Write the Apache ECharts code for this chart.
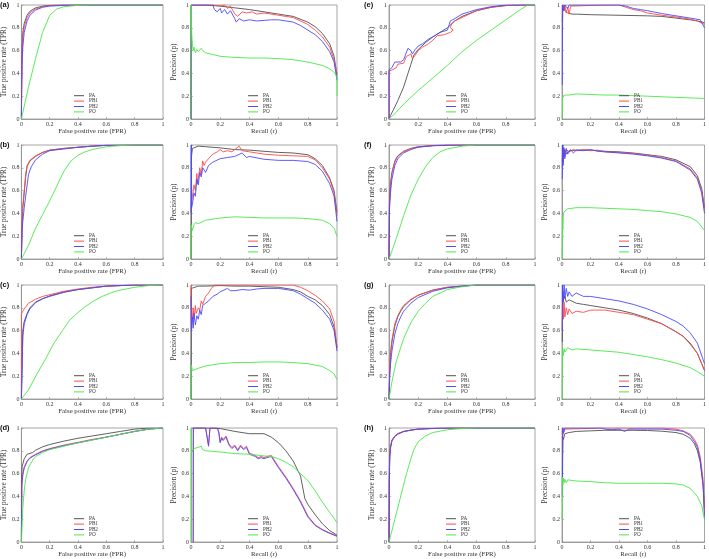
<!DOCTYPE html>
<html><head><meta charset="utf-8">
<script src="https://cdn.jsdelivr.net/npm/echarts@6/dist/echarts.min.js"></script>
<style>html,body{margin:0;padding:0;background:#fff}#c{width:709px;height:559px}</style>
</head><body><div id="c"></div>
<script>
// ---------- DATA ----------
const seriesNames = ['PA', 'PB1', 'PB2', 'PO'];
const panelLabels = ['(a)', '(b)', '(c)', '(d)', '(e)', '(f)', '(g)', '(h)'];
const axisTicks = [0, 0.2, 0.4, 0.6, 0.8, 1];
const rocXName = 'False positive rate (FPR)';
const rocYName = 'True positive rate (TPR)';
const prXName = 'Recall (r)';
const prYName = 'Precision (p)';

// (a)
const rocA_PA = [[0,0],[0.002,0.35],[0.005,0.62],[0.01,0.76],[0.02,0.84],[0.04,0.91],[0.06,0.945],[0.1,0.975],[0.15,0.99],[0.2,0.997],[0.3,1],[1,1]];
const rocA_PB1 = [[0,0],[0.002,0.3],[0.005,0.58],[0.01,0.72],[0.02,0.81],[0.04,0.89],[0.06,0.93],[0.1,0.965],[0.15,0.985],[0.2,0.995],[0.3,1],[1,1]];
const rocA_PB2 = [[0,0],[0.002,0.25],[0.005,0.5],[0.01,0.63],[0.02,0.76],[0.04,0.86],[0.06,0.91],[0.1,0.955],[0.15,0.98],[0.2,0.99],[0.35,1],[1,1]];
const rocA_PO = [[0,0],[0.05,0.28],[0.1,0.53],[0.15,0.76],[0.2,0.91],[0.25,0.965],[0.3,0.985],[0.4,0.997],[0.5,1],[1,1]];
const prA_PA = [[0,0],[0.002,1],[0.1,1],[0.2,0.99],[0.3,0.975],[0.4,0.96],[0.5,0.94],[0.6,0.92],[0.7,0.9],[0.8,0.85],[0.85,0.81],[0.9,0.75],[0.95,0.66],[0.98,0.55],[1,0.38]];
const prA_PB1 = [[0,0],[0.002,1],[0.15,1],[0.2,0.99],[0.23,1],[0.25,0.97],[0.27,0.99],[0.3,0.92],[0.32,0.9],[0.35,0.94],[0.38,0.93],[0.42,0.94],[0.45,0.92],[0.5,0.93],[0.55,0.92],[0.6,0.91],[0.7,0.89],[0.8,0.83],[0.85,0.78],[0.9,0.72],[0.95,0.63],[0.98,0.52],[1,0.4]];
const prA_PB2 = [[0,0],[0.002,1],[0.15,1],[0.16,0.96],[0.18,0.94],[0.2,0.97],[0.21,0.93],[0.23,0.96],[0.25,0.92],[0.27,0.95],[0.3,0.88],[0.31,0.85],[0.33,0.88],[0.36,0.86],[0.4,0.87],[0.45,0.86],[0.5,0.865],[0.55,0.87],[0.6,0.87],[0.65,0.86],[0.7,0.85],[0.75,0.82],[0.8,0.78],[0.85,0.74],[0.9,0.68],[0.95,0.59],[0.98,0.5],[1,0.34]];
const prA_PO = [[0,0],[0.001,1],[0.005,0.75],[0.01,0.65],[0.015,0.6],[0.02,0.63],[0.03,0.58],[0.04,0.61],[0.05,0.59],[0.07,0.62],[0.08,0.6],[0.1,0.58],[0.15,0.565],[0.2,0.55],[0.3,0.54],[0.4,0.535],[0.5,0.535],[0.6,0.53],[0.7,0.52],[0.8,0.5],[0.9,0.47],[0.95,0.44],[0.98,0.41],[1,0.37],[1,0.2]];

// (b)
const rocB_PA = [[0,0],[0.005,0.3],[0.01,0.45],[0.02,0.58],[0.03,0.72],[0.04,0.81],[0.06,0.86],[0.1,0.9],[0.15,0.935],[0.2,0.955],[0.3,0.97],[0.4,0.98],[0.5,0.99],[0.6,0.997],[0.8,1],[1,1]];
const rocB_PB1 = [[0,0],[0.005,0.32],[0.01,0.47],[0.02,0.6],[0.03,0.74],[0.04,0.82],[0.06,0.865],[0.1,0.905],[0.15,0.935],[0.2,0.955],[0.3,0.97],[0.4,0.98],[0.5,0.99],[0.6,0.997],[0.8,1],[1,1]];
const rocB_PB2 = [[0,0],[0.005,0.25],[0.01,0.33],[0.02,0.45],[0.03,0.55],[0.05,0.74],[0.07,0.81],[0.1,0.87],[0.15,0.92],[0.2,0.95],[0.3,0.965],[0.4,0.98],[0.5,0.99],[0.6,0.997],[0.8,1],[1,1]];
const rocB_PO = [[0,0],[0.05,0.12],[0.1,0.27],[0.15,0.39],[0.2,0.51],[0.25,0.64],[0.3,0.77],[0.35,0.86],[0.4,0.91],[0.45,0.94],[0.5,0.96],[0.6,0.985],[0.7,0.995],[0.8,1],[1,1]];
const prB_PA = [[0,0],[0.003,0.9],[0.01,0.97],[0.02,0.985],[0.05,0.99],[0.1,0.985],[0.2,0.975],[0.3,0.96],[0.4,0.955],[0.5,0.945],[0.6,0.935],[0.7,0.93],[0.8,0.915],[0.85,0.88],[0.9,0.82],[0.95,0.71],[0.98,0.6],[1,0.41]];
const prB_PB1 = [[0,0.45],[0.005,0.5],[0.01,0.55],[0.02,0.65],[0.03,0.6],[0.04,0.75],[0.045,0.66],[0.06,0.8],[0.07,0.74],[0.08,0.86],[0.09,0.82],[0.1,0.85],[0.12,0.88],[0.15,0.92],[0.18,0.94],[0.2,0.96],[0.22,0.94],[0.25,0.95],[0.28,0.94],[0.3,0.96],[0.33,0.99],[0.35,0.95],[0.4,0.94],[0.45,0.93],[0.5,0.92],[0.6,0.91],[0.7,0.905],[0.8,0.9],[0.85,0.87],[0.9,0.8],[0.95,0.7],[0.98,0.58],[1,0.38]];
const prB_PB2 = [[0,0.4],[0.002,1],[0.004,0.45],[0.01,0.48],[0.02,0.58],[0.03,0.55],[0.04,0.7],[0.05,0.65],[0.06,0.76],[0.07,0.72],[0.08,0.8],[0.1,0.76],[0.12,0.82],[0.15,0.85],[0.2,0.88],[0.25,0.89],[0.3,0.9],[0.35,0.93],[0.38,0.89],[0.4,0.9],[0.5,0.875],[0.6,0.865],[0.7,0.865],[0.8,0.855],[0.85,0.83],[0.9,0.77],[0.95,0.66],[0.98,0.55],[1,0.33]];
const prB_PO = [[0,0],[0.002,0.3],[0.01,0.25],[0.02,0.3],[0.03,0.32],[0.05,0.31],[0.1,0.34],[0.2,0.36],[0.3,0.37],[0.4,0.365],[0.5,0.36],[0.6,0.36],[0.7,0.36],[0.8,0.355],[0.9,0.34],[0.95,0.31],[0.98,0.27],[1,0.2]];

// (c)
const rocC_PA = [[0,0],[0.005,0.3],[0.01,0.6],[0.02,0.68],[0.04,0.75],[0.06,0.8],[0.1,0.85],[0.15,0.88],[0.2,0.905],[0.3,0.94],[0.4,0.96],[0.5,0.975],[0.6,0.99],[0.8,1],[1,1]];
const rocC_PB1 = [[0,0],[0.001,0.75],[0.01,0.77],[0.02,0.79],[0.05,0.84],[0.1,0.875],[0.15,0.9],[0.2,0.915],[0.3,0.945],[0.4,0.965],[0.5,0.98],[0.6,0.99],[0.8,1],[1,1]];
const rocC_PB2 = [[0,0],[0.005,0.25],[0.01,0.55],[0.02,0.66],[0.04,0.74],[0.06,0.79],[0.1,0.845],[0.15,0.88],[0.2,0.9],[0.3,0.935],[0.4,0.96],[0.5,0.975],[0.6,0.99],[0.8,1],[1,1]];
const rocC_PO = [[0,0],[0.05,0.08],[0.11,0.22],[0.17,0.35],[0.23,0.49],[0.29,0.6],[0.34,0.69],[0.4,0.76],[0.45,0.81],[0.51,0.86],[0.57,0.9],[0.63,0.93],[0.68,0.95],[0.8,0.98],[0.9,0.995],[1,1]];
const prC_PA = [[0,0],[0.002,0.97],[0.01,0.98],[0.05,0.99],[0.1,0.99],[0.2,0.995],[0.3,0.99],[0.4,0.99],[0.5,0.985],[0.6,0.98],[0.7,0.96],[0.75,0.94],[0.8,0.9],[0.85,0.87],[0.9,0.82],[0.95,0.74],[0.98,0.63],[1,0.45]];
const prC_PB1 = [[0,1],[0.003,0.65],[0.01,0.72],[0.015,0.8],[0.02,0.7],[0.03,0.82],[0.035,0.75],[0.05,0.8],[0.06,0.78],[0.07,0.86],[0.08,0.83],[0.1,0.9],[0.12,0.93],[0.14,0.97],[0.16,1],[0.2,1],[0.4,1],[0.6,1],[0.7,1],[0.75,0.98],[0.8,0.95],[0.85,0.91],[0.9,0.86],[0.95,0.79],[0.98,0.68],[1,0.45]];
const prC_PB2 = [[0,0.9],[0.003,0.6],[0.01,0.72],[0.015,0.62],[0.02,0.75],[0.03,0.65],[0.04,0.73],[0.05,0.7],[0.06,0.78],[0.07,0.74],[0.08,0.82],[0.1,0.84],[0.12,0.86],[0.15,0.9],[0.18,0.92],[0.2,0.94],[0.25,0.97],[0.27,0.95],[0.3,0.95],[0.35,0.96],[0.4,0.955],[0.45,0.965],[0.5,0.97],[0.6,0.97],[0.7,0.95],[0.75,0.92],[0.8,0.88],[0.85,0.84],[0.9,0.78],[0.95,0.7],[0.98,0.6],[1,0.42]];
const prC_PO = [[0,0],[0.002,0.3],[0.01,0.25],[0.02,0.24],[0.03,0.26],[0.05,0.27],[0.1,0.29],[0.2,0.31],[0.3,0.32],[0.4,0.32],[0.5,0.325],[0.6,0.325],[0.7,0.32],[0.8,0.31],[0.9,0.285],[0.95,0.25],[0.98,0.22],[1,0.17]];

// (d)
const rocD_PA = [[0,0],[0.002,0.55],[0.005,0.66],[0.02,0.73],[0.04,0.77],[0.08,0.785],[0.1,0.805],[0.15,0.835],[0.2,0.855],[0.3,0.885],[0.4,0.91],[0.5,0.93],[0.6,0.95],[0.7,0.97],[0.8,0.99],[0.9,1],[1,1]];
const rocD_PB1 = [[0,0],[0.003,0.5],[0.01,0.6],[0.02,0.66],[0.04,0.71],[0.06,0.74],[0.1,0.77],[0.15,0.8],[0.2,0.82],[0.3,0.85],[0.4,0.875],[0.5,0.9],[0.6,0.92],[0.7,0.945],[0.8,0.97],[0.9,0.99],[1,1]];
const rocD_PB2 = [[0,0],[0.003,0.5],[0.01,0.59],[0.02,0.65],[0.04,0.705],[0.06,0.735],[0.1,0.765],[0.15,0.795],[0.2,0.815],[0.3,0.845],[0.4,0.87],[0.5,0.895],[0.6,0.92],[0.7,0.945],[0.8,0.97],[0.9,0.99],[1,1]];
const rocD_PO = [[0,0],[0.01,0.3],[0.02,0.45],[0.03,0.55],[0.05,0.65],[0.08,0.72],[0.1,0.75],[0.15,0.785],[0.2,0.81],[0.3,0.84],[0.4,0.87],[0.5,0.895],[0.6,0.92],[0.7,0.945],[0.8,0.97],[0.9,0.99],[1,1]];
const prD_PA = [[0.01,1],[0.1,1],[0.2,0.995],[0.3,0.97],[0.4,0.95],[0.5,0.95],[0.55,0.92],[0.6,0.87],[0.65,0.8],[0.7,0.71],[0.75,0.58],[0.78,0.38],[0.8,0.33],[0.85,0.24],[0.9,0.16],[0.95,0.1],[1,0.06]];
const prD_PB1 = [[0.015,0],[0.016,1],[0.1,1],[0.11,0.93],[0.12,0.85],[0.13,1],[0.18,1],[0.19,0.97],[0.2,0.88],[0.21,0.92],[0.22,0.9],[0.24,0.93],[0.26,0.86],[0.28,0.83],[0.3,0.85],[0.32,0.81],[0.34,0.85],[0.36,0.82],[0.38,0.84],[0.4,0.78],[0.42,0.77],[0.44,0.76],[0.46,0.74],[0.48,0.75],[0.5,0.74],[0.52,0.75],[0.55,0.76],[0.57,0.72],[0.6,0.66],[0.65,0.57],[0.7,0.47],[0.75,0.36],[0.8,0.23],[0.85,0.15],[0.9,0.11],[0.95,0.08],[1,0.055]];
const prD_PB2 = [[0.015,0],[0.016,1],[0.1,1],[0.11,0.92],[0.12,0.84],[0.13,1],[0.18,1],[0.19,0.96],[0.2,0.87],[0.21,0.91],[0.22,0.89],[0.24,0.92],[0.26,0.85],[0.28,0.82],[0.3,0.84],[0.32,0.8],[0.34,0.84],[0.36,0.81],[0.38,0.83],[0.4,0.77],[0.42,0.76],[0.44,0.75],[0.46,0.73],[0.48,0.74],[0.5,0.73],[0.52,0.74],[0.55,0.75],[0.57,0.71],[0.6,0.65],[0.65,0.56],[0.7,0.46],[0.75,0.35],[0.8,0.22],[0.85,0.145],[0.9,0.105],[0.95,0.075],[1,0.05]];
const prD_PO = [[0.002,0],[0.003,1],[0.005,0.82],[0.01,0.8],[0.02,0.82],[0.03,0.81],[0.05,0.83],[0.07,0.84],[0.08,0.81],[0.1,0.8],[0.15,0.795],[0.2,0.79],[0.3,0.775],[0.4,0.77],[0.5,0.755],[0.55,0.75],[0.6,0.73],[0.65,0.7],[0.7,0.66],[0.75,0.6],[0.8,0.54],[0.85,0.45],[0.9,0.35],[0.95,0.26],[1,0.17]];

// (e)
const rocE_PA = [[0,0],[0.01,0.03],[0.03,0.08],[0.06,0.16],[0.1,0.28],[0.13,0.4],[0.15,0.48],[0.17,0.56],[0.2,0.61],[0.25,0.67],[0.3,0.72],[0.35,0.76],[0.4,0.8],[0.45,0.86],[0.5,0.9],[0.6,0.95],[0.7,0.98],[0.8,0.995],[0.9,1],[1,1]];
const rocE_PB1 = [[0,0],[0,0.42],[0.02,0.43],[0.05,0.45],[0.06,0.48],[0.1,0.49],[0.12,0.55],[0.15,0.57],[0.16,0.53],[0.18,0.56],[0.2,0.6],[0.23,0.63],[0.27,0.66],[0.3,0.69],[0.33,0.73],[0.38,0.74],[0.42,0.76],[0.44,0.78],[0.42,0.8],[0.43,0.84],[0.45,0.86],[0.5,0.89],[0.55,0.92],[0.6,0.95],[0.7,0.98],[0.8,0.995],[0.9,1],[1,1]];
const rocE_PB2 = [[0,0],[0,0.43],[0.02,0.45],[0.04,0.5],[0.08,0.5],[0.1,0.52],[0.13,0.62],[0.15,0.6],[0.16,0.57],[0.18,0.61],[0.2,0.64],[0.23,0.66],[0.27,0.7],[0.3,0.72],[0.35,0.76],[0.4,0.78],[0.41,0.82],[0.42,0.86],[0.45,0.88],[0.5,0.92],[0.55,0.94],[0.6,0.96],[0.7,0.985],[0.8,1],[1,1]];
const rocE_PO = [[0,0],[0.05,0.06],[0.1,0.13],[0.2,0.25],[0.3,0.36],[0.4,0.47],[0.5,0.59],[0.6,0.69],[0.7,0.78],[0.8,0.87],[0.9,0.96],[0.95,1],[1,1]];
const prE_PA = [[0.002,0.85],[0.005,1],[0.01,0.98],[0.02,0.95],[0.04,0.93],[0.07,0.92],[0.1,0.92],[0.2,0.915],[0.4,0.91],[0.6,0.905],[0.7,0.9],[0.8,0.885],[0.9,0.87],[0.95,0.86],[1,0.845]];
const prE_PB1 = [[0.003,0.75],[0.006,1],[0.015,0.95],[0.02,1],[0.03,0.93],[0.04,0.98],[0.05,0.92],[0.06,0.99],[0.07,1],[0.3,1],[0.4,1],[0.45,0.98],[0.5,0.96],[0.55,0.95],[0.6,0.93],[0.65,0.92],[0.7,0.91],[0.8,0.895],[0.9,0.875],[0.95,0.86],[1,0.83]];
const prE_PB2 = [[0.002,0.3],[0.004,1],[0.01,0.95],[0.02,1],[0.04,0.97],[0.05,1],[0.4,1],[0.45,0.99],[0.5,0.97],[0.55,0.96],[0.6,0.95],[0.7,0.925],[0.8,0.905],[0.9,0.885],[0.97,0.87],[1,0.8]];
const prE_PO = [[0.002,0],[0.004,0.2],[0.01,0.19],[0.02,0.21],[0.03,0.195],[0.05,0.21],[0.1,0.22],[0.2,0.215],[0.3,0.21],[0.4,0.21],[0.6,0.2],[0.8,0.19],[1,0.18]];

// (f)
const rocF_PA = [[0,0],[0.003,0.5],[0.01,0.66],[0.02,0.76],[0.04,0.86],[0.06,0.905],[0.1,0.945],[0.15,0.97],[0.2,0.985],[0.3,0.995],[0.4,1],[1,1]];
const rocF_PB1 = [[0,0],[0.003,0.48],[0.01,0.64],[0.02,0.75],[0.04,0.85],[0.06,0.9],[0.1,0.94],[0.15,0.968],[0.2,0.983],[0.3,0.995],[0.4,1],[1,1]];
const rocF_PB2 = [[0,0],[0.003,0.42],[0.01,0.58],[0.02,0.7],[0.04,0.82],[0.06,0.88],[0.1,0.93],[0.15,0.96],[0.2,0.98],[0.3,0.993],[0.45,1],[1,1]];
const rocF_PO = [[0,0],[0.05,0.18],[0.1,0.38],[0.15,0.56],[0.2,0.7],[0.25,0.81],[0.3,0.89],[0.35,0.94],[0.4,0.965],[0.5,0.99],[0.6,1],[1,1]];
const prF_PA = [[0.002,0.85],[0.005,1],[0.01,0.9],[0.02,0.96],[0.03,0.92],[0.05,0.95],[0.1,0.955],[0.2,0.955],[0.3,0.945],[0.4,0.94],[0.5,0.93],[0.6,0.915],[0.7,0.9],[0.8,0.87],[0.9,0.81],[0.95,0.73],[0.98,0.62],[1,0.45]];
const prF_PB1 = [[0.002,0.8],[0.005,0.95],[0.01,0.85],[0.015,0.97],[0.02,0.9],[0.03,0.96],[0.05,0.94],[0.08,0.96],[0.1,0.95],[0.15,0.96],[0.2,0.95],[0.25,0.955],[0.3,0.94],[0.4,0.935],[0.5,0.925],[0.6,0.91],[0.7,0.89],[0.8,0.86],[0.9,0.79],[0.95,0.71],[0.98,0.6],[1,0.43]];
const prF_PB2 = [[0.002,0.7],[0.004,1],[0.008,0.82],[0.012,0.98],[0.02,0.88],[0.03,0.97],[0.04,0.92],[0.06,0.96],[0.08,0.93],[0.1,0.955],[0.15,0.95],[0.2,0.96],[0.25,0.945],[0.3,0.94],[0.4,0.93],[0.5,0.92],[0.6,0.905],[0.7,0.885],[0.8,0.855],[0.9,0.78],[0.95,0.7],[0.98,0.58],[1,0.4]];
const prF_PO = [[0.001,0],[0.003,0.35],[0.006,0.25],[0.01,0.4],[0.02,0.42],[0.04,0.44],[0.07,0.445],[0.1,0.45],[0.2,0.45],[0.3,0.445],[0.4,0.44],[0.5,0.435],[0.6,0.425],[0.7,0.415],[0.8,0.395],[0.9,0.365],[0.95,0.33],[1,0.25]];

// (g)
const rocG_PA = [[0,0],[0.005,0.25],[0.01,0.38],[0.02,0.5],[0.04,0.64],[0.06,0.72],[0.08,0.77],[0.1,0.81],[0.15,0.87],[0.2,0.91],[0.3,0.955],[0.4,0.98],[0.5,0.99],[0.6,1],[1,1]];
const rocG_PB1 = [[0,0],[0.005,0.27],[0.01,0.4],[0.02,0.52],[0.04,0.66],[0.06,0.73],[0.08,0.78],[0.1,0.82],[0.15,0.875],[0.2,0.91],[0.3,0.955],[0.4,0.98],[0.5,0.99],[0.6,1],[1,1]];
const rocG_PB2 = [[0,0],[0.005,0.2],[0.01,0.3],[0.02,0.42],[0.04,0.57],[0.06,0.66],[0.08,0.72],[0.1,0.77],[0.15,0.84],[0.2,0.89],[0.3,0.945],[0.4,0.975],[0.5,0.99],[0.6,1],[1,1]];
const rocG_PO = [[0,0],[0.02,0.15],[0.05,0.33],[0.1,0.53],[0.15,0.67],[0.2,0.77],[0.25,0.84],[0.3,0.9],[0.4,0.96],[0.5,0.985],[0.6,1],[1,1]];
const prG_PA = [[0.002,0.5],[0.005,0.95],[0.01,0.88],[0.02,0.9],[0.03,0.85],[0.05,0.87],[0.1,0.84],[0.15,0.83],[0.2,0.82],[0.3,0.8],[0.4,0.78],[0.5,0.75],[0.6,0.71],[0.7,0.66],[0.8,0.59],[0.85,0.55],[0.9,0.49],[0.95,0.4],[1,0.25]];
const prG_PB1 = [[0.002,0.6],[0.005,0.9],[0.01,0.7],[0.015,0.85],[0.02,0.72],[0.03,0.8],[0.04,0.74],[0.05,0.79],[0.07,0.75],[0.1,0.77],[0.15,0.76],[0.2,0.78],[0.3,0.78],[0.4,0.76],[0.5,0.74],[0.6,0.7],[0.7,0.66],[0.8,0.59],[0.85,0.55],[0.9,0.48],[0.95,0.4],[1,0.25]];
const prG_PB2 = [[0.002,0.6],[0.004,1],[0.01,0.85],[0.015,1],[0.02,0.88],[0.03,0.97],[0.04,0.9],[0.05,0.94],[0.07,0.9],[0.1,0.93],[0.15,0.9],[0.2,0.9],[0.3,0.88],[0.4,0.86],[0.5,0.83],[0.6,0.79],[0.7,0.74],[0.8,0.68],[0.85,0.64],[0.9,0.58],[0.95,0.49],[1,0.31]];
const prG_PO = [[0.001,0],[0.003,0.45],[0.008,0.38],[0.015,0.44],[0.02,0.41],[0.04,0.45],[0.07,0.43],[0.1,0.44],[0.2,0.43],[0.3,0.42],[0.4,0.41],[0.5,0.39],[0.6,0.37],[0.7,0.345],[0.8,0.315],[0.9,0.275],[0.95,0.24],[1,0.2]];

// (h)
const rocH_PA = [[0,0],[0.002,0.55],[0.005,0.75],[0.01,0.83],[0.02,0.89],[0.04,0.93],[0.06,0.95],[0.1,0.97],[0.15,0.982],[0.2,0.99],[0.3,0.996],[0.4,1],[1,1]];
const rocH_PB1 = [[0,0],[0.002,0.6],[0.005,0.78],[0.01,0.84],[0.02,0.895],[0.04,0.93],[0.06,0.95],[0.1,0.97],[0.15,0.982],[0.2,0.99],[0.3,0.996],[0.4,1],[1,1]];
const rocH_PB2 = [[0,0],[0.002,0.5],[0.005,0.72],[0.01,0.82],[0.02,0.885],[0.04,0.925],[0.06,0.945],[0.1,0.968],[0.15,0.98],[0.2,0.99],[0.3,0.996],[0.4,1],[1,1]];
const rocH_PO = [[0,0],[0.03,0.15],[0.06,0.3],[0.09,0.45],[0.12,0.6],[0.15,0.73],[0.17,0.81],[0.2,0.88],[0.25,0.93],[0.3,0.96],[0.4,0.985],[0.5,0.995],[0.6,1],[1,1]];
const prH_PA = [[0.003,0.5],[0.006,0.92],[0.01,0.9],[0.02,0.95],[0.03,0.94],[0.05,0.96],[0.1,0.97],[0.2,0.975],[0.3,0.98],[0.5,0.98],[0.6,0.978],[0.7,0.972],[0.8,0.96],[0.85,0.945],[0.9,0.91],[0.93,0.86],[0.95,0.8],[0.97,0.7],[0.99,0.5],[1,0.3]];
const prH_PB1 = [[0.003,0.7],[0.006,1],[0.01,0.95],[0.02,0.99],[0.03,1],[0.3,1],[0.4,1],[0.5,1],[0.6,1],[0.7,1],[0.75,0.995],[0.8,0.99],[0.85,0.975],[0.9,0.945],[0.93,0.9],[0.95,0.85],[0.97,0.75],[0.99,0.55],[1,0.25]];
const prH_PB2 = [[0.002,0.4],[0.005,1],[0.01,0.96],[0.02,1],[0.1,1],[0.28,1],[0.3,0.99],[0.35,0.985],[0.4,0.99],[0.44,0.97],[0.47,0.99],[0.5,0.99],[0.6,0.99],[0.7,0.99],[0.8,0.98],[0.85,0.97],[0.9,0.935],[0.93,0.88],[0.95,0.83],[0.97,0.72],[0.99,0.5],[1,0.2]];
const prH_PO = [[0.001,0.2],[0.003,0.57],[0.006,0.5],[0.01,0.56],[0.015,0.52],[0.02,0.55],[0.03,0.52],[0.04,0.545],[0.05,0.53],[0.07,0.54],[0.1,0.535],[0.2,0.53],[0.3,0.52],[0.4,0.515],[0.5,0.515],[0.6,0.515],[0.7,0.515],[0.8,0.51],[0.85,0.5],[0.9,0.47],[0.95,0.4],[0.98,0.32],[1,0.2]];

const rocData = [
  [rocA_PA, rocA_PB1, rocA_PB2, rocA_PO], [rocB_PA, rocB_PB1, rocB_PB2, rocB_PO],
  [rocC_PA, rocC_PB1, rocC_PB2, rocC_PO], [rocD_PA, rocD_PB1, rocD_PB2, rocD_PO],
  [rocE_PA, rocE_PB1, rocE_PB2, rocE_PO], [rocF_PA, rocF_PB1, rocF_PB2, rocF_PO],
  [rocG_PA, rocG_PB1, rocG_PB2, rocG_PO], [rocH_PA, rocH_PB1, rocH_PB2, rocH_PO]
];
const prData = [
  [prA_PA, prA_PB1, prA_PB2, prA_PO], [prB_PA, prB_PB1, prB_PB2, prB_PO],
  [prC_PA, prC_PB1, prC_PB2, prC_PO], [prD_PA, prD_PB1, prD_PB2, prD_PO],
  [prE_PA, prE_PB1, prE_PB2, prE_PO], [prF_PA, prF_PB1, prF_PB2, prF_PO],
  [prG_PA, prG_PB1, prG_PB2, prG_PO], [prH_PA, prH_PB1, prH_PB2, prH_PO]
];

// ---------- LAYOUT / STYLE ----------
const COLORS = ['#4f4f4f', '#ff4a4a', '#4a4aff', '#4ae84a'];
const ROC_LEFT = [17, 389], PR_LEFT = [191, 562];
const ROW_TOP = [5, 145, 285, 428];
const W = 146, H = 114;
const SERIF = '"Liberation Serif", "Times New Roman", serif';

const grids = [], xAxes = [], yAxes = [], series = [], legends = [], graphics = [];

function addPlot(left, top, xName, yName, dataSet) {
  const gi = grids.length;
  grids.push({left: left, top: top, width: W, height: H, show: true,
    borderColor: '#8f8f8f', borderWidth: 0.8, backgroundColor: 'transparent', containLabel: false});
  const axisCommon = {
    type: 'value', min: 0, max: 1, interval: 0.2, gridIndex: gi,
    nameLocation: 'middle',
    axisLine: {show: true, lineStyle: {color: '#8f8f8f', width: 0.8}},
    axisTick: {show: true, inside: true, length: 2, lineStyle: {color: '#8f8f8f', width: 0.6}},
    axisLabel: {fontFamily: SERIF, fontSize: 6, color: '#333', margin: 2,
      formatter: v => axisTicks.includes(+v.toFixed(1)) ? String(+v.toFixed(1)) : ''},
    splitLine: {show: false}
  };
  xAxes.push(Object.assign({}, axisCommon, {name: xName, nameGap: 8,
    nameTextStyle: {fontFamily: SERIF, fontSize: 6.8, color: '#333'}}));
  yAxes.push(Object.assign({}, axisCommon, {name: yName, nameGap: 8,
    nameTextStyle: {fontFamily: SERIF, fontSize: 7.2, color: '#333'}}));
  dataSet.forEach((d, k) => {
    series.push({type: 'line', name: seriesNames[k], xAxisIndex: gi, yAxisIndex: gi,
      data: d, symbol: 'none', showSymbol: false, clip: true, animation: false,
      lineStyle: {color: COLORS[k], width: 0.9}, itemStyle: {color: COLORS[k]}});
  });
  legends.push({data: seriesNames, orient: 'vertical', left: left + 0.5 * W - 16, top: top + 88,
    itemWidth: 10, itemHeight: 1, itemGap: 0, padding: 0, icon: 'rect', selectedMode: false,
    textStyle: {fontFamily: SERIF, fontSize: 5.2, color: '#333', lineHeight: 5.4}});
}

for (let p = 0; p < 8; p++) {
  const col = p < 4 ? 0 : 1, row = p % 4;
  const top = ROW_TOP[row];
  addPlot(ROC_LEFT[col], top, rocXName, rocYName, rocData[p]);
  addPlot(PR_LEFT[col], top, prXName, prYName, prData[p]);
  graphics.push({type: 'text', left: col === 0 ? 0 : 364, top: top - 4,
    style: {text: panelLabels[p], font: 'bold 7.5px "Liberation Sans", Arial, sans-serif', fill: '#111'}});
}

const chart = echarts.init(document.getElementById('c'), null, {renderer: 'canvas'});
chart.setOption({
  animation: false,
  backgroundColor: '#fff',
  grid: grids, xAxis: xAxes, yAxis: yAxes, series: series, legend: legends, graphic: graphics
});
</script></body></html>
